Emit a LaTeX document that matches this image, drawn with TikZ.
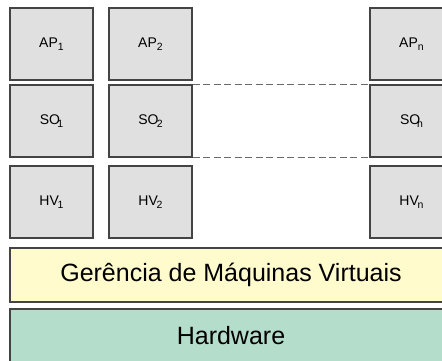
\documentclass[tikz,border=0pt]{standalone}
\usepackage{fontspec}
\setmainfont{Liberation Sans}
% lowered index used in the small box labels
\newcommand{\lowidx}[1]{\raisebox{-0.4ex}{\fontsize{10.5}{11}\selectfont #1}}
\definecolor{boxline}{HTML}{444444}
\definecolor{vmgray}{HTML}{E0E0E0}
\definecolor{vmmyellow}{HTML}{FFFBCC}
\definecolor{hwgreen}{HTML}{B4DDCC}
\definecolor{dashgray}{HTML}{6A6A6A}
\begin{document}
\begin{tikzpicture}[x=1pt,y=-1pt,
  vmbox/.style={draw=boxline, line width=1.3pt, fill=vmgray,
    minimum width=83pt, minimum height=72pt, inner sep=0pt,
    font=\fontsize{14}{16}\selectfont},
  layerbar/.style={draw=boxline, line width=1.3pt,
    minimum width=442pt, minimum height=54pt, inner sep=0pt,
    font=\fontsize{25}{28}\selectfont},
  dashline/.style={draw=dashgray, line width=1pt, dash pattern=on 7pt off 3.5pt}]
\useasboundingbox (0,0) rectangle (442,361);
\fill[white] (0,0) rectangle (442,361);
\clip (0,0) rectangle (442,361);

% virtual machine stacks
\node[vmbox] (ap1) at (51.5,44)  {AP\lowidx{1}};
\node[vmbox] (so1) at (51.5,121) {SO\kern-0.2em\lowidx{1}};
\node[vmbox] (hv1) at (51.5,202) {HV\kern-0.08em\lowidx{1}};

\node[vmbox] (ap2) at (150.5,44)  {AP\lowidx{2}};
\node[vmbox] (so2) at (150.5,121) {SO\kern-0.12em\lowidx{2}};
\node[vmbox] (hv2) at (150.5,202) {HV\kern-0.08em\lowidx{2}};

\node[vmbox] (apn) at (411.5,44)  {AP\lowidx{n}};
\node[vmbox] (son) at (411.5,121) {SO\kern-0.22em\lowidx{n}};
\node[vmbox] (hvn) at (411.5,202) {HV\kern-0.08em\lowidx{n}};

% elided machines between the second and the last
\draw[dashline] (so2.north east) -- (son.north west);
\draw[dashline] (so2.south east) -- (son.south west);

% shared layers
\node[layerbar, fill=vmmyellow] (vmm) at (231,275) {Gerência de Máquinas Virtuais};
\node[layerbar, fill=hwgreen] (hw) at (231,336) {Hardware};
\end{tikzpicture}
\end{document}
